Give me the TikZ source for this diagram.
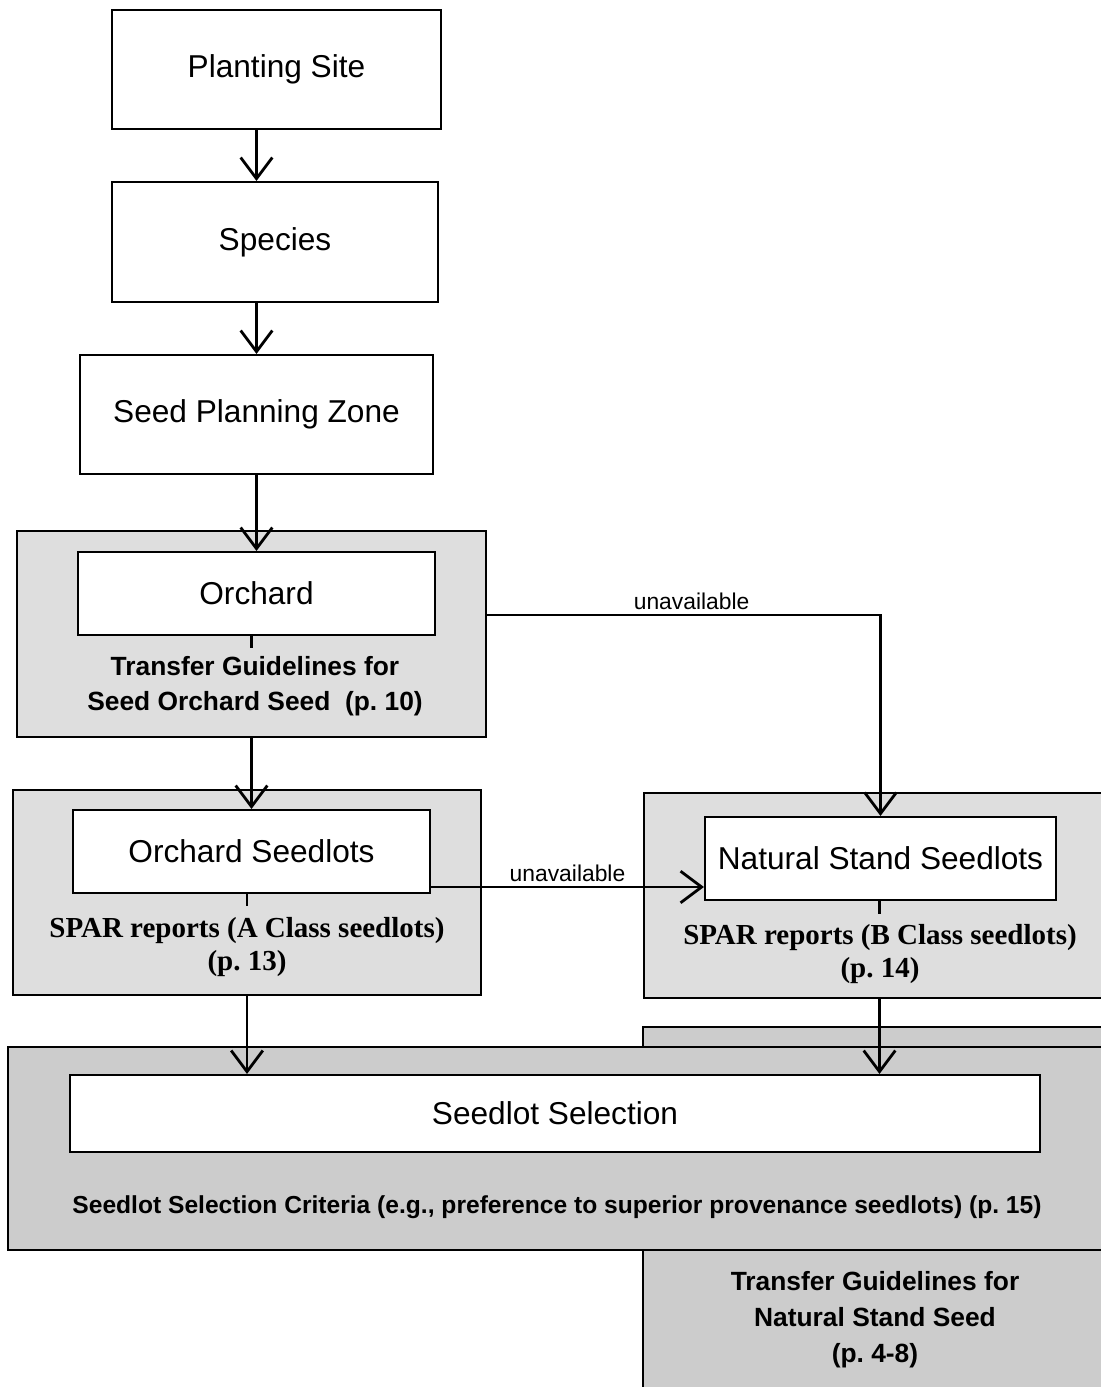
\documentclass[tikz,border=0pt]{standalone}
\usepackage{fontspec}
\setmainfont{Liberation Serif}
\setsansfont{Liberation Sans}
\usetikzlibrary{arrows.meta,positioning,calc}
\tikzset{stepbox/.style={draw, line width=1.2pt, fill=white, inner sep=0pt, font=\sffamily\fontsize{18}{21}\selectfont}}
\tikzset{greybox/.style={draw, line width=1.2pt, fill=black!13, inner sep=0pt}}
\tikzset{darkbox/.style={greybox, fill=black!20}}
\tikzset{note/.style={align=center, font=\sffamily\bfseries\fontsize{15}{20}\selectfont}}
\tikzset{spar/.style={align=center, font=\rmfamily\bfseries\fontsize{16.5}{19}\selectfont}}
\tikzset{arr/.style={draw, line width=1.6pt, -{Straight Barb[length=12pt,width=18pt,line width=1.6pt]}}}
\tikzset{tick/.style={draw, line width=1.6pt}}
\tikzset{lbl/.style={font=\sffamily\fontsize{13}{15}\selectfont, inner sep=2pt}}

\begin{document}
\begin{tikzpicture}[x=0.02cm, y=-0.02cm]
			\useasboundingbox (0,0) rectangle (1101,1387);
			\clip (0,0) rectangle (1101,1387);
			\fill[white] (0,0) rectangle (1101,1387);
			
			% top chain
			\node[stepbox, minimum width=6.58cm, minimum height=2.38cm] (ps) at (276.5,69.5){Planting Site};
			\node[stepbox, minimum width=6.52cm, minimum height=2.40cm] (sp) at (275,242){Species};
			\node[stepbox, minimum width=7.06cm, minimum height=2.38cm] (spz) at (256.5,414.5){Seed Planning Zone};
			
			% background panels
			\node[darkbox, minimum width=9.44cm, minimum height=7.46cm] (tgbox) at (879,1213.5){};
			\node[greybox, minimum width=9.38cm, minimum height=4.12cm] (orchbox) at (251.5,634){};
			\node[greybox, minimum width=9.36cm, minimum height=4.10cm] (osbox) at (247,892.5){};
			\node[greybox, minimum width=9.42cm, minimum height=4.10cm] (nsbox) at (879.5,895.5){};
			\node[darkbox, minimum width=22.14cm, minimum height=4.06cm] (ssbox) at (561.5,1148.5){};
			
			% inner boxes
			\node[stepbox, minimum width=7.14cm, minimum height=1.66cm] (orch) at (256.5,593.5){Orchard};
			\node[stepbox, minimum width=7.14cm, minimum height=1.66cm] (os) at (251.5,851.5){Orchard Seedlots};
			\node[stepbox, minimum width=7.02cm, minimum height=1.66cm] (ns) at (880.5,858.5){Natural Stand Seedlots};
			\node[stepbox, minimum width=19.40cm, minimum height=1.54cm] (ss) at (555,1113.5){Seedlot Selection};
			
			% notes
			\node[note] (orchnote) at (255,686){Transfer Guidelines for\\Seed Orchard Seed\ \ (p.\ 10)};
			\node[spar] (osnote) at (247,947){SPAR reports (A Class seedlots)\\(p.\ 13)};
			\node[spar] (nsnote) at (880,954){SPAR reports (B Class seedlots)\\(p.\ 14)};
			\node[note, font=\sffamily\bfseries\fontsize{14}{17}\selectfont] (ssnote) at (557,1207){Seedlot Selection Criteria (e.g., preference to superior provenance seedlots) (p.\ 15)};
			\node[note, font=\sffamily\bfseries\fontsize{15}{20.5}\selectfont] (tgnote) at (875,1320){Transfer Guidelines for\\Natural Stand Seed\\(p.\ 4-8)};
			
			% connectors
			\draw[arr] (ps.south -| spz.north) -- (sp.north -| spz.north);
			\draw[arr] (sp.south -| spz.north) -- (spz.north);
			\draw[arr] (spz.south -| orch.north) -- (orch.north);
			\draw[tick] (orch.south -| os.south) -- ++(0,12);
			\draw[arr] (orchbox.south -| os.north) -- (os.north);
			\draw[tick] (os.south -| osbox.south) -- ++(0,12);
			\draw[tick] (ns.south -| nsbox.south) -- ++(0,13);
			\draw[arr] ([yshift=0.38cm]orchbox.east) -| node[lbl, above, pos=0.26] (un1) {unavailable} (ns.north);
			\draw[arr] ([yshift=-0.71cm]os.east) -- node[lbl, above] (un2) {unavailable} ([yshift=-0.71cm]os.east -| ns.west);
			\draw[arr] (osbox.south) -- (osbox.south |- ss.north);
			\draw[arr] (nsbox.south) -- (nsbox.south |- ss.north);
		\end{tikzpicture}
\end{document}
